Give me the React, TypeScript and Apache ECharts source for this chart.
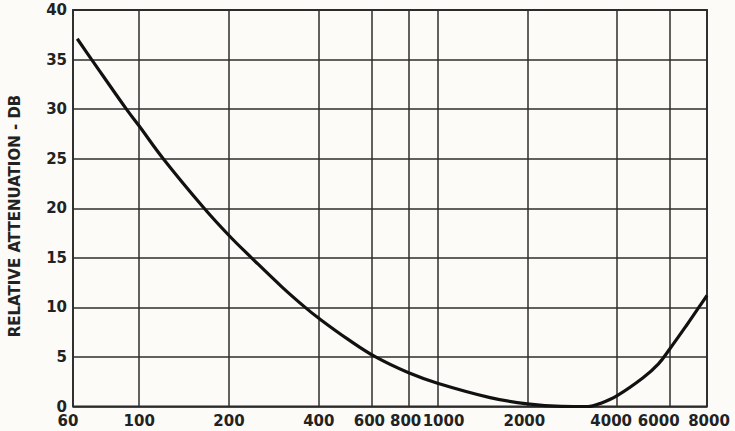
import React, { useEffect, useRef } from "react";
import * as echarts from "echarts";

// Frequency (Hz) and relative attenuation (dB)
const freqs = [62, 69.3, 90.6, 100, 120.4, 164, 200, 238, 300, 360, 400, 500, 620, 800, 1000, 1500, 2000, 2600, 3200, 3500, 4000, 4884, 5500, 6000, 6800, 7550, 8000];
const atten = [37.1, 35, 30, 28.3, 25, 20.1, 17.25, 15, 12.1, 10, 8.9, 6.8, 5.0, 3.4, 2.35, 0.9, 0.27, 0.02, 0.0, 0.3, 1.1, 2.9, 4.3, 5.8, 8.1, 10.1, 11.2];

// x tick labels (vertical grid lines)
const xTicks = [60, 100, 200, 400, 600, 800, 1000, 2000, 4000, 6000, 8000];
// horizontal label nudges (px) to mimic the hand lettering
const xTickShift = [-5, 0, 0, 0, -2, -3, 6, -3, -6, -11, 2];

const yMin = 0;
const yMax = 40;
const yStep = 5;
const yTitle = "RELATIVE ATTENUATION - DB";

export default function App() {
  const ref = useRef<HTMLDivElement>(null);
  useEffect(() => {
    if (!ref.current) return;
    const chart = echarts.init(ref.current, undefined, { renderer: "svg" });
    const font = "DejaVu Sans";
    const tickData = xTicks.map((v, i) => {
      const s = xTickShift[i];
      return {
        xAxis: v,
        name: String(v),
        label: { padding: s >= 0 ? [0, 0, 0, 2 * s] : [0, -2 * s, 0, 0] },
      };
    });
    chart.setOption({
      animation: false,
      backgroundColor: "#fcfbf7",
      grid: {
        left: 73,
        right: 28,
        top: 10,
        bottom: 24.5,
        show: true,
        borderColor: "#262626",
        borderWidth: 1.8,
        backgroundColor: "transparent",
      },
      xAxis: {
        type: "log",
        logBase: 10,
        min: 60,
        max: 8000,
        axisLine: { show: false },
        axisTick: { show: false },
        axisLabel: { show: false },
        splitLine: { show: false },
        minorSplitLine: { show: false },
      },
      yAxis: {
        type: "value",
        min: yMin,
        max: yMax,
        interval: yStep,
        axisLine: { show: false },
        axisTick: { show: false },
        axisLabel: {
          margin: 6,
          fontFamily: font,
          fontWeight: "bold",
          fontSize: 15,
          lineHeight: 13,
          color: "#222",
        },
        splitLine: { lineStyle: { color: "#2e2e2e", width: 1.5 } },
      },
      graphic: [
        {
          type: "text",
          x: 15,
          y: 216,
          rotation: Math.PI / 2,
          style: {
            text: yTitle,
            fontFamily: font,
            fontWeight: "bold",
            fontSize: 15,
            fill: "#222",
            textAlign: "center",
            textVerticalAlign: "middle",
          },
        },
      ],
      series: [
        {
          type: "line",
          data: freqs.map((f, i) => [f, atten[i]]),
          smooth: 0.4,
          showSymbol: false,
          lineStyle: { color: "#111", width: 3.2 },
          z: 5,
          markLine: {
            silent: true,
            symbol: ["none", "none"],
            animation: false,
            lineStyle: { color: "#2e2e2e", width: 1.5, type: "solid" },
            label: {
              show: true,
              position: "start",
              distance: 8,
              formatter: "{b}",
              fontFamily: font,
              fontWeight: "bold",
              fontSize: 15,
              lineHeight: 13,
              color: "#222",
            },
            data: tickData,
          },
        },
      ],
    });
    return () => chart.dispose();
  }, []);
  return (
    <div
      ref={ref}
      style={{ position: "fixed", left: 0, top: 0, width: 735, height: 431 }}
    />
  );
}
